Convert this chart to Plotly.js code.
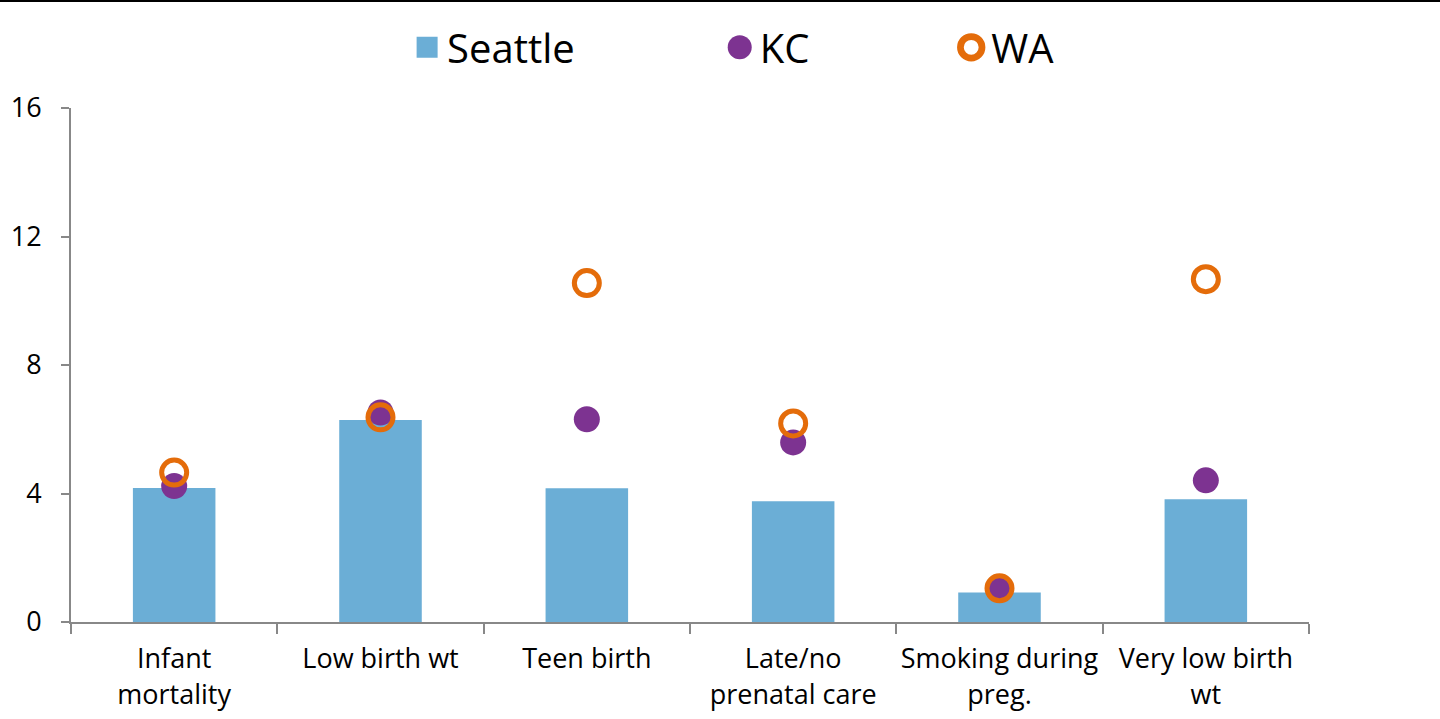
<!DOCTYPE html>
<html>
<head>
<meta charset="utf-8">
<script src="https://cdn.plot.ly/plotly-3.0.1.min.js"></script>
<style>
html,body{margin:0;padding:0;background:#fff;}
#topline{position:absolute;left:0;top:0;width:1440px;height:2px;background:#000;z-index:5;}
#chart{width:1440px;height:719px;}
</style>
</head>
<body>
<div id="topline"></div>
<div id="chart"></div>
<script>
const categories = ["Infant<br>mortality", "Low birth wt", "Teen birth", "Late/no<br>prenatal care", "Smoking during<br>preg.", "Very low birth<br>wt"];
const seattle = [4.17, 6.29, 4.16, 3.76, 0.92, 3.82];
const kc = [4.23, 6.52, 6.31, 5.59, 1.05, 4.41];
const wa = [4.65, 6.37, 10.55, 6.18, 1.05, 10.67];
const yTicks = [0, 4, 8, 12, 16];

const font = "Open Sans, Noto Sans, sans-serif";

const traces = [
  {type: 'bar', name: 'Seattle', x: categories, y: seattle,
   marker: {color: '#6BAED6'}, legend: 'legend'},
  {type: 'scatter', mode: 'markers', name: 'KC', x: categories, y: kc,
   marker: {color: '#7D3391', size: 26, line: {width: 0}}, legend: 'legend2'},
  {type: 'scatter', mode: 'markers', name: 'WA', x: categories, y: wa,
   marker: {symbol: 'circle-open', color: '#E46C0A', size: 25, line: {width: 5, color: '#E46C0A'}}, legend: 'legend3'}
];

const legFont = {family: font, size: 40, color: '#000'};
const legY = 1.118;
const layout = {
  width: 1440, height: 719,
  margin: {l: 71, r: 131, t: 108, b: 97, autoexpand: false},
  paper_bgcolor: '#fff', plot_bgcolor: '#fff',
  font: {family: font, color: '#000'},
  bargap: 0.6,
  showlegend: true,
  legend: {orientation: 'h', x: 0.2715, y: legY, xanchor: 'left', yanchor: 'middle', font: legFont, bgcolor: 'rgba(0,0,0,0)'},
  legend2: {orientation: 'h', x: 0.524, y: legY, xanchor: 'left', yanchor: 'middle', font: legFont, bgcolor: 'rgba(0,0,0,0)'},
  legend3: {orientation: 'h', x: 0.711, y: legY, xanchor: 'left', yanchor: 'middle', font: legFont, bgcolor: 'rgba(0,0,0,0)'},
  xaxis: {
    type: 'category', showline: true, linecolor: '#888', linewidth: 2,
    ticks: 'outside', tickson: 'boundaries', ticklen: 10, tickcolor: '#888', tickwidth: 2,
    ticklabelstandoff: 12, tickangle: 0,
    tickfont: {family: font, size: 27, color: '#000'}, showgrid: false, zeroline: false
  },
  yaxis: {
    range: [0, 16], tickvals: yTicks, showline: true, linecolor: '#888', linewidth: 2,
    ticks: 'outside', ticklen: 8, tickcolor: '#888', tickwidth: 2,
    ticklabelstandoff: 14,
    tickfont: {family: font, size: 27, color: '#000'}, showgrid: false, zeroline: false
  }
};

Plotly.newPlot('chart', traces, layout, {staticPlot: true, displayModeBar: false}).then(function (gd) {
  const scales = {legend: 1.75, legend2: 1.5, legend3: 1.35};
  Object.keys(scales).forEach(function (cls) {
    gd.querySelectorAll('g.' + cls + ' .legendpoints path').forEach(function (p) {
      const t = p.getAttribute('transform') || '';
      p.setAttribute('transform', t + ' scale(' + scales[cls] + ')');
    });
  });
});
</script>
</body>
</html>
